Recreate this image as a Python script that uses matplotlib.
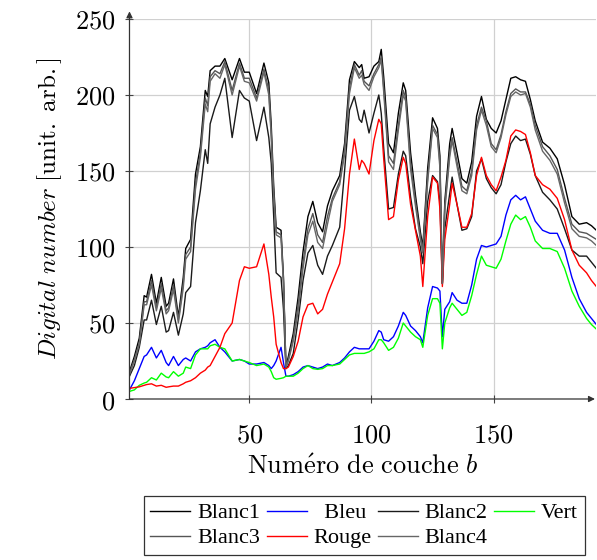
import matplotlib
matplotlib.use("Agg")
import matplotlib.pyplot as plt

plt.rcParams['mathtext.fontset'] = 'cm'

# band numbers (shared x values)
bands = [1, 3, 5, 7, 8, 10, 12, 14, 16, 17,
         19, 21, 23, 24, 26, 28, 30, 32, 33, 34,
         36, 38, 40, 43, 46, 48, 50, 53, 56, 58,
         59, 60, 61, 63, 64, 65, 66, 68, 70, 72,
         74, 76, 78, 80, 82, 84, 87, 89, 91, 93,
         95, 96, 97, 99, 101, 103, 104, 105, 107, 109,
         111, 113, 114, 116, 118, 120, 121, 123, 125, 127,
         128, 129, 130, 132, 133, 135, 137, 139, 141, 143,
         145, 147, 149, 151, 153, 155, 157, 159, 161, 163,
         165, 167, 170, 173, 176, 179, 182, 185, 188, 190,
         192]

blanc1 = [18, 28, 40, 68, 67, 82, 63, 80, 61, 63,
          79, 54, 80, 99, 105, 148, 166, 203, 199, 216,
          219, 219, 224, 210, 224, 215, 215, 201, 221, 208,
          180, 140, 113, 111, 80, 21, 28, 43, 67, 97,
          120, 130, 116, 110, 127, 137, 147, 168, 210, 222,
          218, 220, 211, 212, 219, 222, 230, 212, 168, 162,
          188, 208, 203, 162, 134, 110, 100, 152, 185, 178,
          160, 76, 130, 168, 178, 162, 145, 142, 156, 186,
          199, 184, 178, 175, 183, 197, 211, 212, 210, 209,
          197, 183, 169, 165, 158, 141, 120, 115, 116, 114,
          111]

blanc2 = [15, 22, 34, 52, 52, 65, 49, 61, 44, 45,
          57, 42, 56, 70, 74, 116, 137, 164, 155, 181,
          192, 200, 211, 172, 203, 198, 196, 170, 192, 172,
          155, 120, 83, 80, 59, 20, 22, 30, 52, 78,
          96, 101, 88, 82, 94, 101, 113, 150, 190, 199,
          184, 182, 190, 175, 188, 200, 188, 165, 125, 126,
          148, 163, 160, 133, 112, 100, 89, 130, 147, 143,
          130, 76, 112, 135, 146, 128, 111, 112, 120, 150,
          158, 145, 139, 135, 141, 156, 168, 173, 170, 171,
          161, 147, 136, 131, 125, 112, 98, 94, 94, 90,
          86]

blanc3 = [17, 26, 37, 64, 64, 78, 60, 76, 58, 60,
          75, 52, 76, 95, 100, 142, 162, 198, 193, 212,
          216, 214, 222, 203, 221, 211, 211, 198, 217, 203,
          175, 136, 110, 108, 78, 21, 26, 40, 62, 90,
          112, 122, 108, 103, 120, 132, 143, 164, 205, 220,
          213, 216, 209, 206, 214, 220, 225, 205, 160, 155,
          180, 203, 198, 155, 130, 107, 98, 146, 180, 174,
          155, 76, 127, 162, 172, 156, 140, 137, 150, 180,
          192, 183, 168, 164, 174, 189, 201, 204, 202, 202,
          194, 180, 166, 160, 151, 132, 115, 110, 109, 107,
          105]

blanc4 = [16, 25, 36, 62, 62, 75, 58, 73, 56, 58,
          72, 50, 73, 92, 97, 138, 159, 194, 189, 209,
          214, 211, 220, 200, 219, 209, 208, 196, 215, 200,
          172, 133, 108, 106, 76, 21, 25, 38, 58, 86,
          108, 117, 103, 99, 115, 130, 141, 161, 201, 218,
          211, 213, 207, 203, 212, 218, 223, 202, 156, 151,
          177, 200, 196, 151, 127, 105, 96, 143, 178, 172,
          152, 76, 124, 159, 170, 153, 137, 135, 147, 177,
          190, 180, 166, 162, 172, 187, 199, 202, 200, 201,
          192, 177, 163, 157, 148, 129, 112, 107, 106, 104,
          101]

bleu = [6, 12, 20, 28, 29, 34, 27, 32, 24, 22,
        28, 22, 26, 27, 25, 31, 33, 34, 35, 37,
        39, 34, 31, 25, 26, 25, 23, 23, 24, 22,
        20, 22, 25, 34, 24, 15, 15, 16, 18, 21,
        22, 21, 20, 21, 23, 22, 24, 27, 31, 34,
        33, 33, 33, 33, 38, 45, 44, 39, 38, 41,
        48, 57, 55, 48, 45, 41, 37, 60, 74, 73,
        71, 41, 59, 64, 70, 65, 63, 63, 75, 92,
        101, 100, 101, 102, 107, 121, 131, 134, 131, 133,
        125, 117, 111, 109, 109, 98, 80, 66, 57, 53,
        49]

rouge = [7, 7.5, 8, 9, 9.5, 10, 8.5, 9, 7.7, 8,
         8.5, 8.5, 10, 11, 12, 14, 17, 19, 21, 22,
         28, 34, 43, 50, 78, 87, 86, 87, 102, 82,
         67, 54, 36, 24, 20, 20, 21, 28, 38, 54,
         62, 63, 56, 59, 69, 77, 89, 112, 148, 171,
         151, 157, 155, 148, 170, 184, 181, 158, 118, 120,
         144, 159, 155, 128, 111, 94, 74, 120, 146, 142,
         125, 74, 105, 128, 142, 128, 113, 113, 122, 147,
         159, 147, 141, 137, 146, 157, 173, 177, 176, 174,
         162, 147, 141, 138, 132, 118, 98, 88, 83, 78,
         74]

vert = [5, 6, 9, 10.5, 11, 14, 12.5, 17, 14.5, 14,
        18, 15, 17, 21, 20, 29, 33, 33, 33, 35,
        36, 34, 33, 25, 26, 25, 24, 22, 23, 21,
        18, 14, 13, 13.6, 14, 15, 15, 15, 17, 20,
        22, 20, 19.5, 20, 22, 22, 23, 26, 29, 30,
        30, 30, 30, 31, 33, 39, 39, 37, 32, 34,
        40, 50, 48, 44, 41, 39, 34, 55, 66, 66,
        63, 33, 50, 60, 63, 59, 55, 57, 68, 82,
        94, 88, 87, 86, 92, 104, 115, 121, 118, 120,
        113, 104, 99, 99, 97, 86, 71, 61, 53, 49,
        46]

fig = plt.figure(figsize=(5.97, 5.60), dpi=100)
ax = fig.add_axes([0.2169, 0.2875, 0.782, 0.6786])

lw = 1.0
l_b1, = ax.plot(bands, blanc1, color='black', lw=lw)
l_bl, = ax.plot(bands, bleu, color='#0000ff', lw=lw)
l_b2, = ax.plot(bands, blanc2, color='#1a1a1a', lw=lw)
l_v, = ax.plot(bands, vert, color='#00ff00', lw=lw)
l_b3, = ax.plot(bands, blanc3, color='#555555', lw=lw)
l_r, = ax.plot(bands, rouge, color='#ff0000', lw=lw)
l_b4, = ax.plot(bands, blanc4, color='#666666', lw=lw)

ax.set_xlim(1, 192)
ax.set_ylim(0, 250)
ax.set_xticks([50, 100, 150], labels=['$50$', '$100$', '$150$'])
ax.set_yticks([0, 50, 100, 150, 200, 250],
              labels=['$0$', '$50$', '$100$', '$150$', '$200$', '$250$'])
ax.tick_params(labelsize=19, direction='inout', length=6, width=0.8,
               color='#444444', pad=7)
ax.tick_params(axis='x', pad=14)
ax.grid(True, color='#d0d0d0', lw=0.9)
ax.set_axisbelow(True)

for s in ax.spines.values():
    s.set_visible(False)
ax.annotate('', xy=(0.997, 0), xytext=(0, 0), xycoords='axes fraction',
            arrowprops=dict(arrowstyle='-|>', color='#333333', lw=0.9,
                            mutation_scale=9, shrinkA=0, shrinkB=0))
ax.annotate('', xy=(0, 1.02), xytext=(0, 0), xycoords='axes fraction',
            arrowprops=dict(arrowstyle='-|>', color='#333333', lw=0.9,
                            mutation_scale=9, shrinkA=0, shrinkB=0))

ax.set_xlabel(r'$\mathrm{Num\acute{e}ro\ de\ couche}\ b$', fontsize=19, labelpad=4)
ax.set_ylabel(r'$\mathit{Digital\ number}\ \mathrm{[unit.\ arb.]}$', fontsize=18,
              labelpad=8)

handles = [l_b1, l_b3, l_bl, l_r, l_b2, l_b4, l_v]
labels = ['Blanc1', 'Blanc3', '  Bleu', 'Rouge', 'Blanc2', 'Blanc4', 'Vert']
leg = fig.legend(handles, labels, ncol=4, loc='upper center',
                 bbox_to_anchor=(0.61, 0.114), frameon=True, fancybox=False,
                 prop={'family': 'Liberation Serif', 'size': 16},
                 handlelength=1.8, handletextpad=0.3, columnspacing=0.3,
                 labelspacing=0.2, borderpad=0.3, borderaxespad=0)
leg.get_frame().set_edgecolor('black')
leg.get_frame().set_linewidth(0.9)

fig.savefig('out.png', dpi=100)
